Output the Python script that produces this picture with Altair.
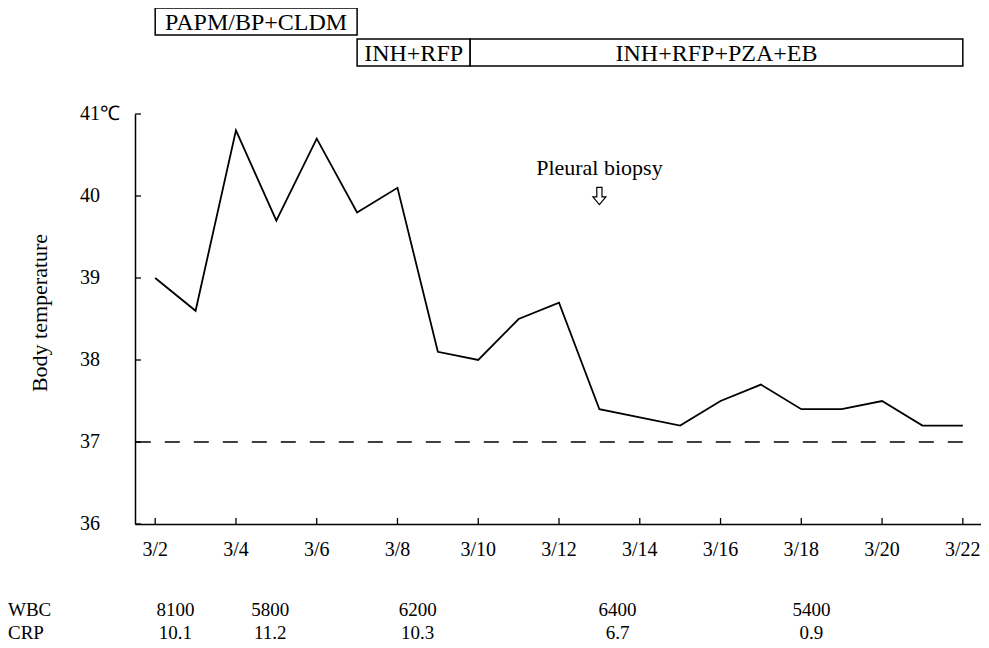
import altair as alt
import pandas as pd

# ---- data ----
days = list(range(2, 23))
temps = [39.0, 38.6, 40.8, 39.7, 40.7, 39.8, 40.1, 38.1, 38.0, 38.5, 38.7,
         37.4, 37.3, 37.2, 37.5, 37.7, 37.4, 37.4, 37.5, 37.2, 37.2]

x_tick_days = [2, 4, 6, 8, 10, 12, 14, 16, 18, 20, 22]
y_ticks = [36, 37, 38, 39, 40, 41]
y_title = ["Body temperature"]

regimens = ["PAPM/BP+CLDM", "INH+RFP", "INH+RFP+PZA+EB"]
reg_start = [2, 7, 9.8]
reg_end = [7, 9.8, 22]
reg_row = [0, 1, 1]

lab_day = [2.5, 4.85, 8.5, 13.45, 18.25]
wbc = ["8100", "5800", "6200", "6400", "5400"]
crp = ["10.1", "11.2", "10.3", "6.7", "0.9"]

biopsy_day = [13]
biopsy_label = ["Pleural biopsy"]

ref_temp = [37]
ref_start = [1.52]
ref_end = [22.1]

FONT = "Liberation Serif"
W, H = 846, 410

xs = alt.Scale(domain=[1.5, 22.45], nice=False, zero=False)
ys = alt.Scale(domain=[36, 41], nice=False, zero=False)

x_axis = alt.Axis(values=x_tick_days, labels=False, ticks=False, title=None,
                  domainColor="black", domainWidth=1.5, grid=False)
y_axis = alt.Axis(values=y_ticks, labels=False, ticks=False, title=None,
                  domainColor="black", domainWidth=1.5, grid=False)

temp_df = pd.DataFrame({"day": days, "temp": temps})
reg_df = pd.DataFrame({"name": regimens, "start": reg_start, "end": reg_end, "row": reg_row})
reg_df["mid"] = (reg_df["start"] + reg_df["end"]) / 2
lab_df = pd.DataFrame({"day": lab_day, "wbc": wbc, "crp": crp})
bio_df = pd.DataFrame({"day": biopsy_day, "label": biopsy_label})
ref_df = pd.DataFrame({"t": ref_temp, "x0": ref_start, "x1": ref_end})
xt_df = pd.DataFrame({"day": x_tick_days})
yt_df = pd.DataFrame({"t": y_ticks})


def X(field):
    return alt.X(field, scale=xs, axis=x_axis)


def Y(field):
    return alt.Y(field, scale=ys, axis=y_axis)


line = alt.Chart(temp_df).mark_line(color="black", strokeWidth=1.8).encode(
    x=X("day:Q"), y=Y("temp:Q"))

ref = alt.Chart(ref_df).mark_rule(color="black", strokeWidth=1.6, strokeDash=[15, 14]).encode(
    x=X("x0:Q"), x2="x1:Q", y=Y("t:Q"))

xticks = alt.Chart(xt_df).mark_rule(color="black", strokeWidth=1.3).encode(
    x=X("day:Q"), y=alt.value(H), y2=alt.value(H - 6))
yticks = alt.Chart(yt_df).mark_rule(color="black", strokeWidth=1.3).encode(
    y=Y("t:Q"), x=alt.value(0), x2=alt.value(6))

xlabels = alt.Chart(xt_df).transform_calculate(lab="'3/' + datum.day").mark_text(
    font=FONT, fontSize=20, color="black", baseline="middle").encode(
    x=X("day:Q"), y=alt.value(H + 26), text="lab:N")
ylabels = alt.Chart(yt_df).transform_calculate(
    lab="datum.t == 41 ? '41℃' : toString(datum.t)").mark_text(
    font=FONT, fontSize=20, color="black", baseline="middle", align="left").encode(
    y=Y("t:Q"), x=alt.value(-55), text="lab:N")
ytitle = alt.Chart(pd.DataFrame({"title": y_title})).mark_text(
    font=FONT, fontSize=22, color="black", baseline="middle", angle=270).encode(
    x=alt.value(-95), y=alt.value(199), text="title:N")

layers = [ref, line, xticks, yticks, xlabels, ylabels, ytitle]

row_y = {0: (-106, -79), 1: (-75, -48)}
for r, (y0, y1) in row_y.items():
    sub = alt.Chart(reg_df).transform_filter(alt.datum.row == r)
    layers.append(sub.mark_rect(fill="white", stroke="black", strokeWidth=1.5).encode(
        x=X("start:Q"), x2="end:Q", y=alt.value(y0), y2=alt.value(y1)))
    layers.append(sub.mark_text(font=FONT, fontSize=24, color="black", baseline="middle", dy=1).encode(
        x=X("mid:Q"), y=alt.value((y0 + y1) / 2), text="name:N"))

layers.append(alt.Chart(bio_df).mark_text(font=FONT, fontSize=22, color="black", baseline="middle").encode(
    x=X("day:Q"), y=alt.value(54), text="label:N"))
arrow_path = "M-0.3,-1 L0.3,-1 L0.3,0.1 L0.75,0.1 L0,1 L-0.75,0.1 L-0.3,0.1 Z"
layers.append(alt.Chart(bio_df).mark_point(shape=arrow_path, filled=False, stroke="black",
                                            strokeWidth=1.2, size=300, opacity=1).encode(
    x=X("day:Q"), y=alt.value(82)))

for field, yv in [("wbc", 496), ("crp", 519)]:
    layers.append(alt.Chart(lab_df).mark_text(font=FONT, fontSize=19, color="black", baseline="middle").encode(
        x=X("day:Q"), y=alt.value(yv), text=f"{field}:N"))
    layers.append(alt.Chart(pd.DataFrame({"h": [field.upper()]})).mark_text(
        font=FONT, fontSize=19, color="black", baseline="middle", align="left").encode(
        x=alt.value(-127), y=alt.value(yv), text="h:N"))

chart = alt.layer(*layers).properties(
    width=W, height=H,
    autosize=alt.AutoSizeParams(type="none"),
    padding={"left": 127, "top": 106, "right": 0, "bottom": 124},
).configure(
    font=FONT, background="white"
).configure_view(stroke=None)

chart.save("out.html", embed_options={"renderer": "svg", "actions": False})
